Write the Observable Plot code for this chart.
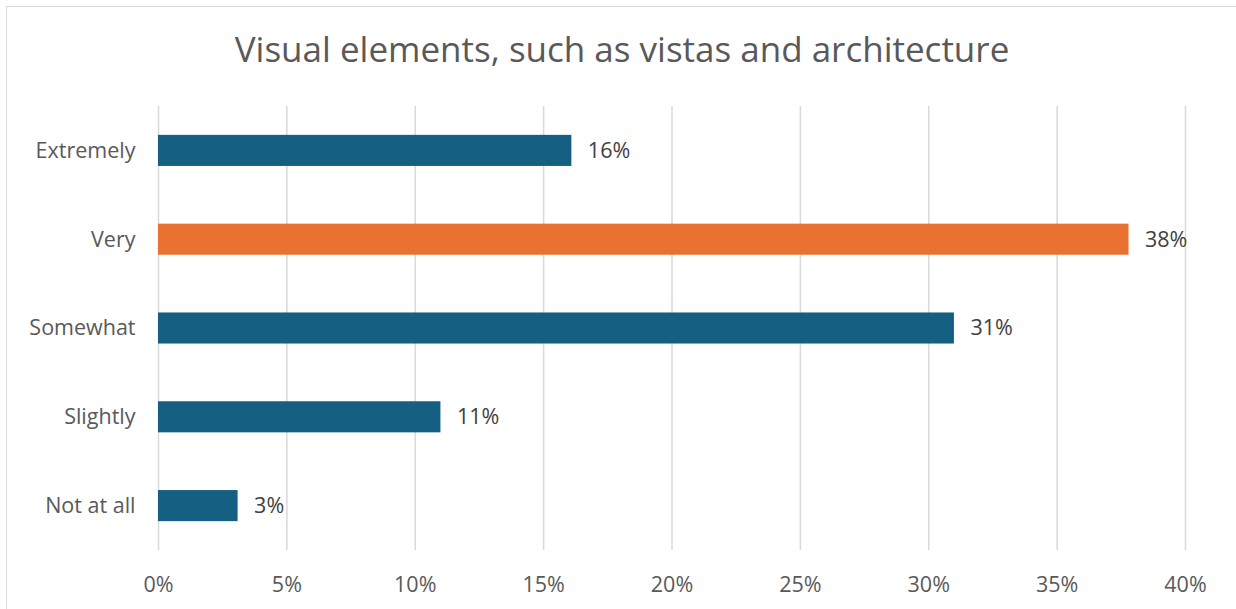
<!DOCTYPE html>
<html>
<head>
<meta charset="utf-8">
<script src="https://cdn.jsdelivr.net/npm/d3@7"></script>
<script src="https://cdn.jsdelivr.net/npm/@observablehq/plot@0.6"></script>
<style>
  html, body { margin: 0; padding: 0; background: #fff; }
  #wrap { position: relative; width: 1236px; height: 609px; overflow: hidden; font-family: "Open Sans", Roboto, sans-serif; }
  #frame { position: absolute; left: 6px; top: 6px; width: 1300px; height: 700px; border: 1.5px solid #d9d9d9; box-sizing: border-box; }
  #title { position: absolute; left: 0; top: 25px; width: 1244px; text-align: center; font-size: 35px; color: #595959; }
  #chart { position: absolute; left: 0; top: 0; }
</style>
</head>
<body>
<div id="wrap">
  <div id="frame"></div>
  <div id="title">Visual elements, such as vistas and architecture</div>
  <div id="chart"></div>
</div>
<script>
const categories = ["Extremely", "Very", "Somewhat", "Slightly", "Not at all"];
const values = [16.1, 37.8, 31.0, 11.0, 3.1];
const xTicks = [0, 5, 10, 15, 20, 25, 30, 35, 40];
const highlighted = "Very";

const data = categories.map((c, i) => ({category: c, value: values[i], label: Math.round(values[i]) + "%"}));

const chart = Plot.plot({
  width: 1236,
  height: 609,
  marginTop: 106,
  marginBottom: 59,
  marginLeft: 158,
  marginRight: 51,
  style: {fontFamily: "'Open Sans', Roboto, sans-serif", fontSize: "21.5px", color: "#595959", background: "transparent"},
  x: {domain: [0, 40], ticks: xTicks, tickFormat: d => d + "%", label: null, tickSize: 0, tickPadding: 26},
  y: {domain: categories, label: null, tickSize: 0, tickPadding: 23, paddingInner: 0.65, paddingOuter: 0.325, round: false},
  marks: [
    Plot.ruleX(xTicks, {stroke: "#d9d9d9", strokeWidth: 1.5}),
    Plot.barX(data, {y: "category", x: "value", fill: d => d.category === highlighted ? "#e97132" : "#156082"}),
    Plot.text(data, {y: "category", x: "value", text: "label", textAnchor: "start", dx: 16, fill: "#404040", fontSize: 21.5})
  ]
});
document.getElementById("chart").appendChild(chart);
</script>
</body>
</html>
